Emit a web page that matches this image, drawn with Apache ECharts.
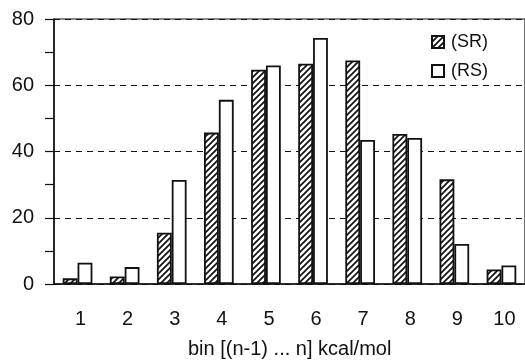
<!DOCTYPE html>
<html><head><meta charset="utf-8">
<script src="https://cdn.jsdelivr.net/npm/echarts@6/dist/echarts.min.js"></script>
<style>html,body{margin:0;padding:0;background:#fff}#c{width:525px;height:360px}</style>
</head><body><div id="c"></div>
<script>
const categories = ['1','2','3','4','5','6','7','8','9','10'];
const seriesSR = [1.7, 2.3, 15.5, 45.7, 64.7, 66.5, 67.5, 45.3, 31.6, 4.4];
const seriesRS = [6.4, 5.1, 31.4, 55.6, 66.0, 74.3, 43.5, 44.1, 12.1, 5.6];
const yTicks = [0, 20, 40, 60, 80];
const seriesNames = ['(SR)', '(RS)'];
const xTitle = 'bin [(n-1) ... n] kcal/mol';

function hatch() {
  const s = 6, c = document.createElement('canvas');
  c.width = s; c.height = s;
  const g = c.getContext('2d');
  g.fillStyle = '#fff'; g.fillRect(0, 0, s, s);
  g.strokeStyle = '#111'; g.lineWidth = 1.7;
  g.beginPath();
  g.moveTo(0, s); g.lineTo(s, 0);
  g.moveTo(-1, 1); g.lineTo(1, -1);
  g.moveTo(s - 1, s + 1); g.lineTo(s + 1, s - 1);
  g.stroke();
  return c;
}
const pattern = { image: hatch(), repeat: 'repeat' };
const font = 'Liberation Sans, Arial, sans-serif';
const chart = echarts.init(document.getElementById('c'), null, { renderer: 'canvas' });
chart.setOption({
  animation: false,
  backgroundColor: '#fff',
  textStyle: { fontFamily: font, color: '#111' },
  grid: { left: 54, right: -8, top: 19, bottom: 76, show: true, borderColor: '#111', borderWidth: 1.2 },
  legend: {
    orient: 'vertical', left: 426, top: 28, itemWidth: 12, itemHeight: 12, itemGap: 11, icon: 'rect',
    itemStyle: { borderWidth: 2, borderColor: '#111' },
    textStyle: { fontSize: 18, fontFamily: font, color: '#111', padding: [0, 0, 0, 2] },
    data: seriesNames
  },
  title: { text: xTitle, left: 183, top: 334, textStyle: { fontSize: 20, fontWeight: 'normal', fontFamily: font, color: '#111' } },
  xAxis: {
    type: 'category', data: categories,
    axisLine: { lineStyle: { color: '#111', width: 1.5 } },
    axisTick: { show: false },
    axisLabel: { margin: 25, fontSize: 20, color: '#111', fontFamily: font, padding: [0, 0, 0, 6] }
  },
  yAxis: {
    type: 'value', min: yTicks[0], max: yTicks[yTicks.length - 1], interval: 20,
    axisLine: { show: true, lineStyle: { color: '#111', width: 1.5 } },
    axisTick: { show: true, length: 9, lineStyle: { color: '#111', width: 1.2 } },
    minorTick: { show: true, splitNumber: 2, length: 9, lineStyle: { color: '#111', width: 1.2 } },
    axisLabel: { margin: 20, fontSize: 20, color: '#111', fontFamily: font },
    splitLine: { show: true, lineStyle: { color: '#111', type: [6, 5], width: 1.2 } }
  },
  series: [
    { name: seriesNames[0], type: 'bar', data: seriesSR, barGap: '0%', barCategoryGap: '37%',
      itemStyle: { color: pattern, borderColor: '#111', borderWidth: 1.8 } },
    { name: seriesNames[1], type: 'bar', data: seriesRS, barGap: '0%', barCategoryGap: '37%',
      itemStyle: { color: '#fff', borderColor: '#111', borderWidth: 1.8 } }
  ]
});
</script></body></html>
